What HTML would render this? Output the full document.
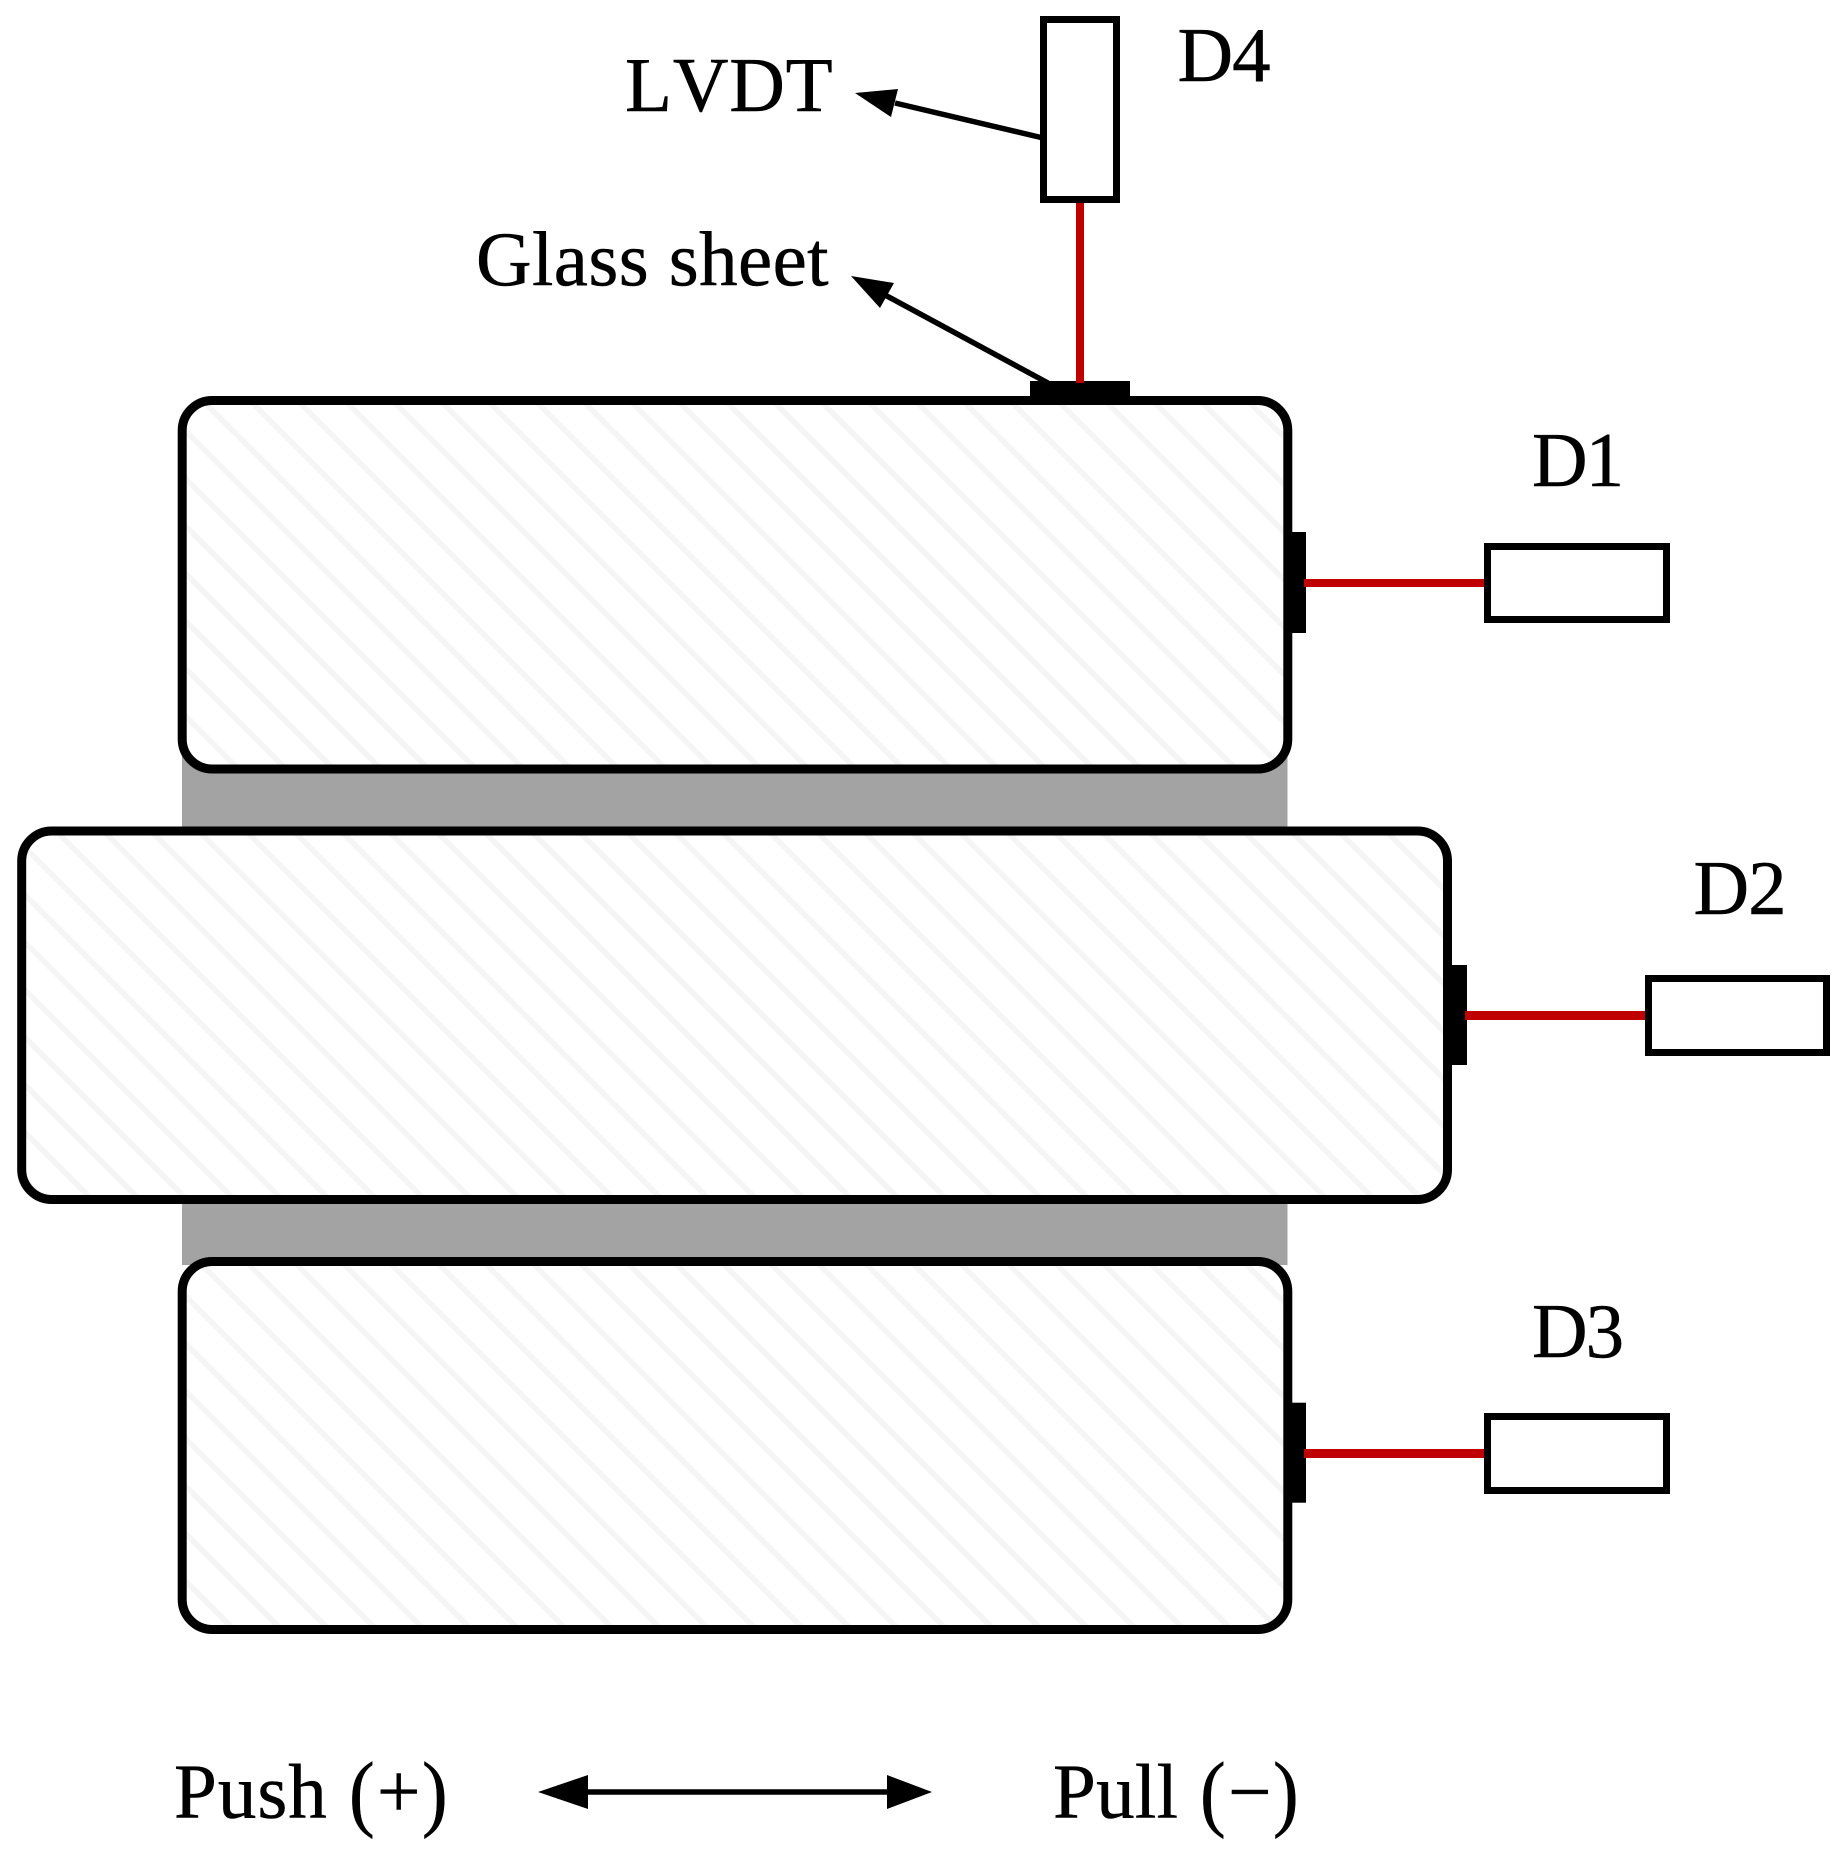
<!DOCTYPE html>
<html>
<head>
<meta charset="utf-8">
<style>
html,body{margin:0;padding:0;background:#fff;width:1847px;height:1857px;overflow:hidden}
svg{display:block}
text{font-family:"Liberation Serif",serif;font-size:77px;fill:#000;stroke:#000;stroke-width:.5;font-kerning:none}
</style>
</head>
<body>
<svg xmlns="http://www.w3.org/2000/svg" width="1847" height="1857" viewBox="0 0 1847 1857">
<defs>
<pattern id="h1" patternUnits="userSpaceOnUse" width="47.5" height="47.5" patternTransform="translate(0 8)">
<path d="M-10,-10L57.5,57.5M-57.5,-10L10,57.5M37.5,-10L105,57.5" stroke="#f5f5f5" stroke-width="5.5" fill="none"/>
</pattern>
<pattern id="h2" patternUnits="userSpaceOnUse" width="47.5" height="47.5" patternTransform="translate(0 15)">
<path d="M-10,-10L57.5,57.5M-57.5,-10L10,57.5M37.5,-10L105,57.5" stroke="#f5f5f5" stroke-width="5.5" fill="none"/>
</pattern>
<pattern id="h3" patternUnits="userSpaceOnUse" width="47.5" height="47.5" patternTransform="translate(0 18)">
<path d="M-10,-10L57.5,57.5M-57.5,-10L10,57.5M37.5,-10L105,57.5" stroke="#f5f5f5" stroke-width="5.5" fill="none"/>
</pattern>
</defs>
<rect width="1847" height="1857" fill="#fff"/>

<!-- grey spacers -->
<rect x="182" y="740" width="1105.5" height="95" fill="#a3a3a3"/>
<rect x="182" y="1190" width="1105.5" height="75" fill="#a3a3a3"/>

<!-- plates -->
<rect x="182.2" y="400.5" width="1105.6" height="368.5" rx="30" ry="30" fill="#fff"/>
<rect x="182.2" y="400.5" width="1105.6" height="368.5" rx="30" ry="30" fill="url(#h1)" stroke="#000" stroke-width="9"/>
<rect x="21.7" y="831" width="1425.8" height="368.5" rx="30" ry="30" fill="#fff"/>
<rect x="21.7" y="831" width="1425.8" height="368.5" rx="30" ry="30" fill="url(#h2)" stroke="#000" stroke-width="9"/>
<rect x="182.2" y="1261.5" width="1105.6" height="368" rx="30" ry="30" fill="#fff"/>
<rect x="182.2" y="1261.5" width="1105.6" height="368" rx="30" ry="30" fill="url(#h3)" stroke="#000" stroke-width="9"/>

<!-- pads -->
<rect x="1030" y="381" width="100" height="17" fill="#000"/>
<rect x="1290" y="532" width="16" height="101" fill="#000"/>
<rect x="1450" y="965" width="17" height="100" fill="#000"/>
<rect x="1290" y="1402.7" width="16" height="100" fill="#000"/>

<!-- red rods -->
<rect x="1076" y="203" width="8" height="180" fill="#c00000"/>
<rect x="1304" y="579" width="180" height="8" fill="#c00000"/>
<rect x="1465" y="1011" width="180" height="9" fill="#c00000"/>
<rect x="1304" y="1449" width="180" height="9" fill="#c00000"/>

<!-- LVDT boxes -->
<rect x="1043.5" y="19.5" width="73" height="180" fill="#fff" stroke="#000" stroke-width="7"/>
<rect x="1487.5" y="546.5" width="179" height="73" fill="#fff" stroke="#000" stroke-width="7"/>
<rect x="1648.5" y="978.5" width="178" height="74" fill="#fff" stroke="#000" stroke-width="7"/>
<rect x="1487.5" y="1416.5" width="179" height="74" fill="#fff" stroke="#000" stroke-width="7"/>

<!-- leader arrows -->
<line x1="895" y1="103" x2="1041" y2="137.5" stroke="#000" stroke-width="5.5"/>
<polygon points="855,93 898,89 891,117" fill="#000"/>
<line x1="885" y1="295" x2="1048" y2="383" stroke="#000" stroke-width="5.5"/>
<polygon points="851,276 894,283 880,308" fill="#000"/>

<!-- double arrow -->
<line x1="580" y1="1792" x2="890" y2="1792" stroke="#000" stroke-width="5.5"/>
<polygon points="538,1792 588,1775 588,1809" fill="#000"/>
<polygon points="932,1792 887,1775 887,1809" fill="#000"/>

<!-- labels -->
<text x="625" y="111" letter-spacing=".8">LVDT</text>
<text x="476" y="285" letter-spacing=".4">Glass sheet</text>
<text x="1177.5" y="81" letter-spacing="-1">D4</text>
<text x="1532" y="486" letter-spacing="-2">D1</text>
<text x="1693.5" y="914" letter-spacing="-1">D2</text>
<text x="1532" y="1357" letter-spacing="-2">D3</text>

<text x="174" y="1817.5" letter-spacing="1">Push</text>
<text transform="translate(349 1820.5) scale(1 1.1)">(</text>
<text x="377" y="1817.5">+</text>
<text transform="translate(422 1820.5) scale(1 1.1)">)</text>

<text x="1053" y="1817.5" letter-spacing=".3">Pull</text>
<text transform="translate(1200 1820.5) scale(1 1.1)">(</text>
<text x="1228" y="1817.5">−</text>
<text transform="translate(1273 1820.5) scale(1 1.1)">)</text>
</svg>
</body>
</html>
